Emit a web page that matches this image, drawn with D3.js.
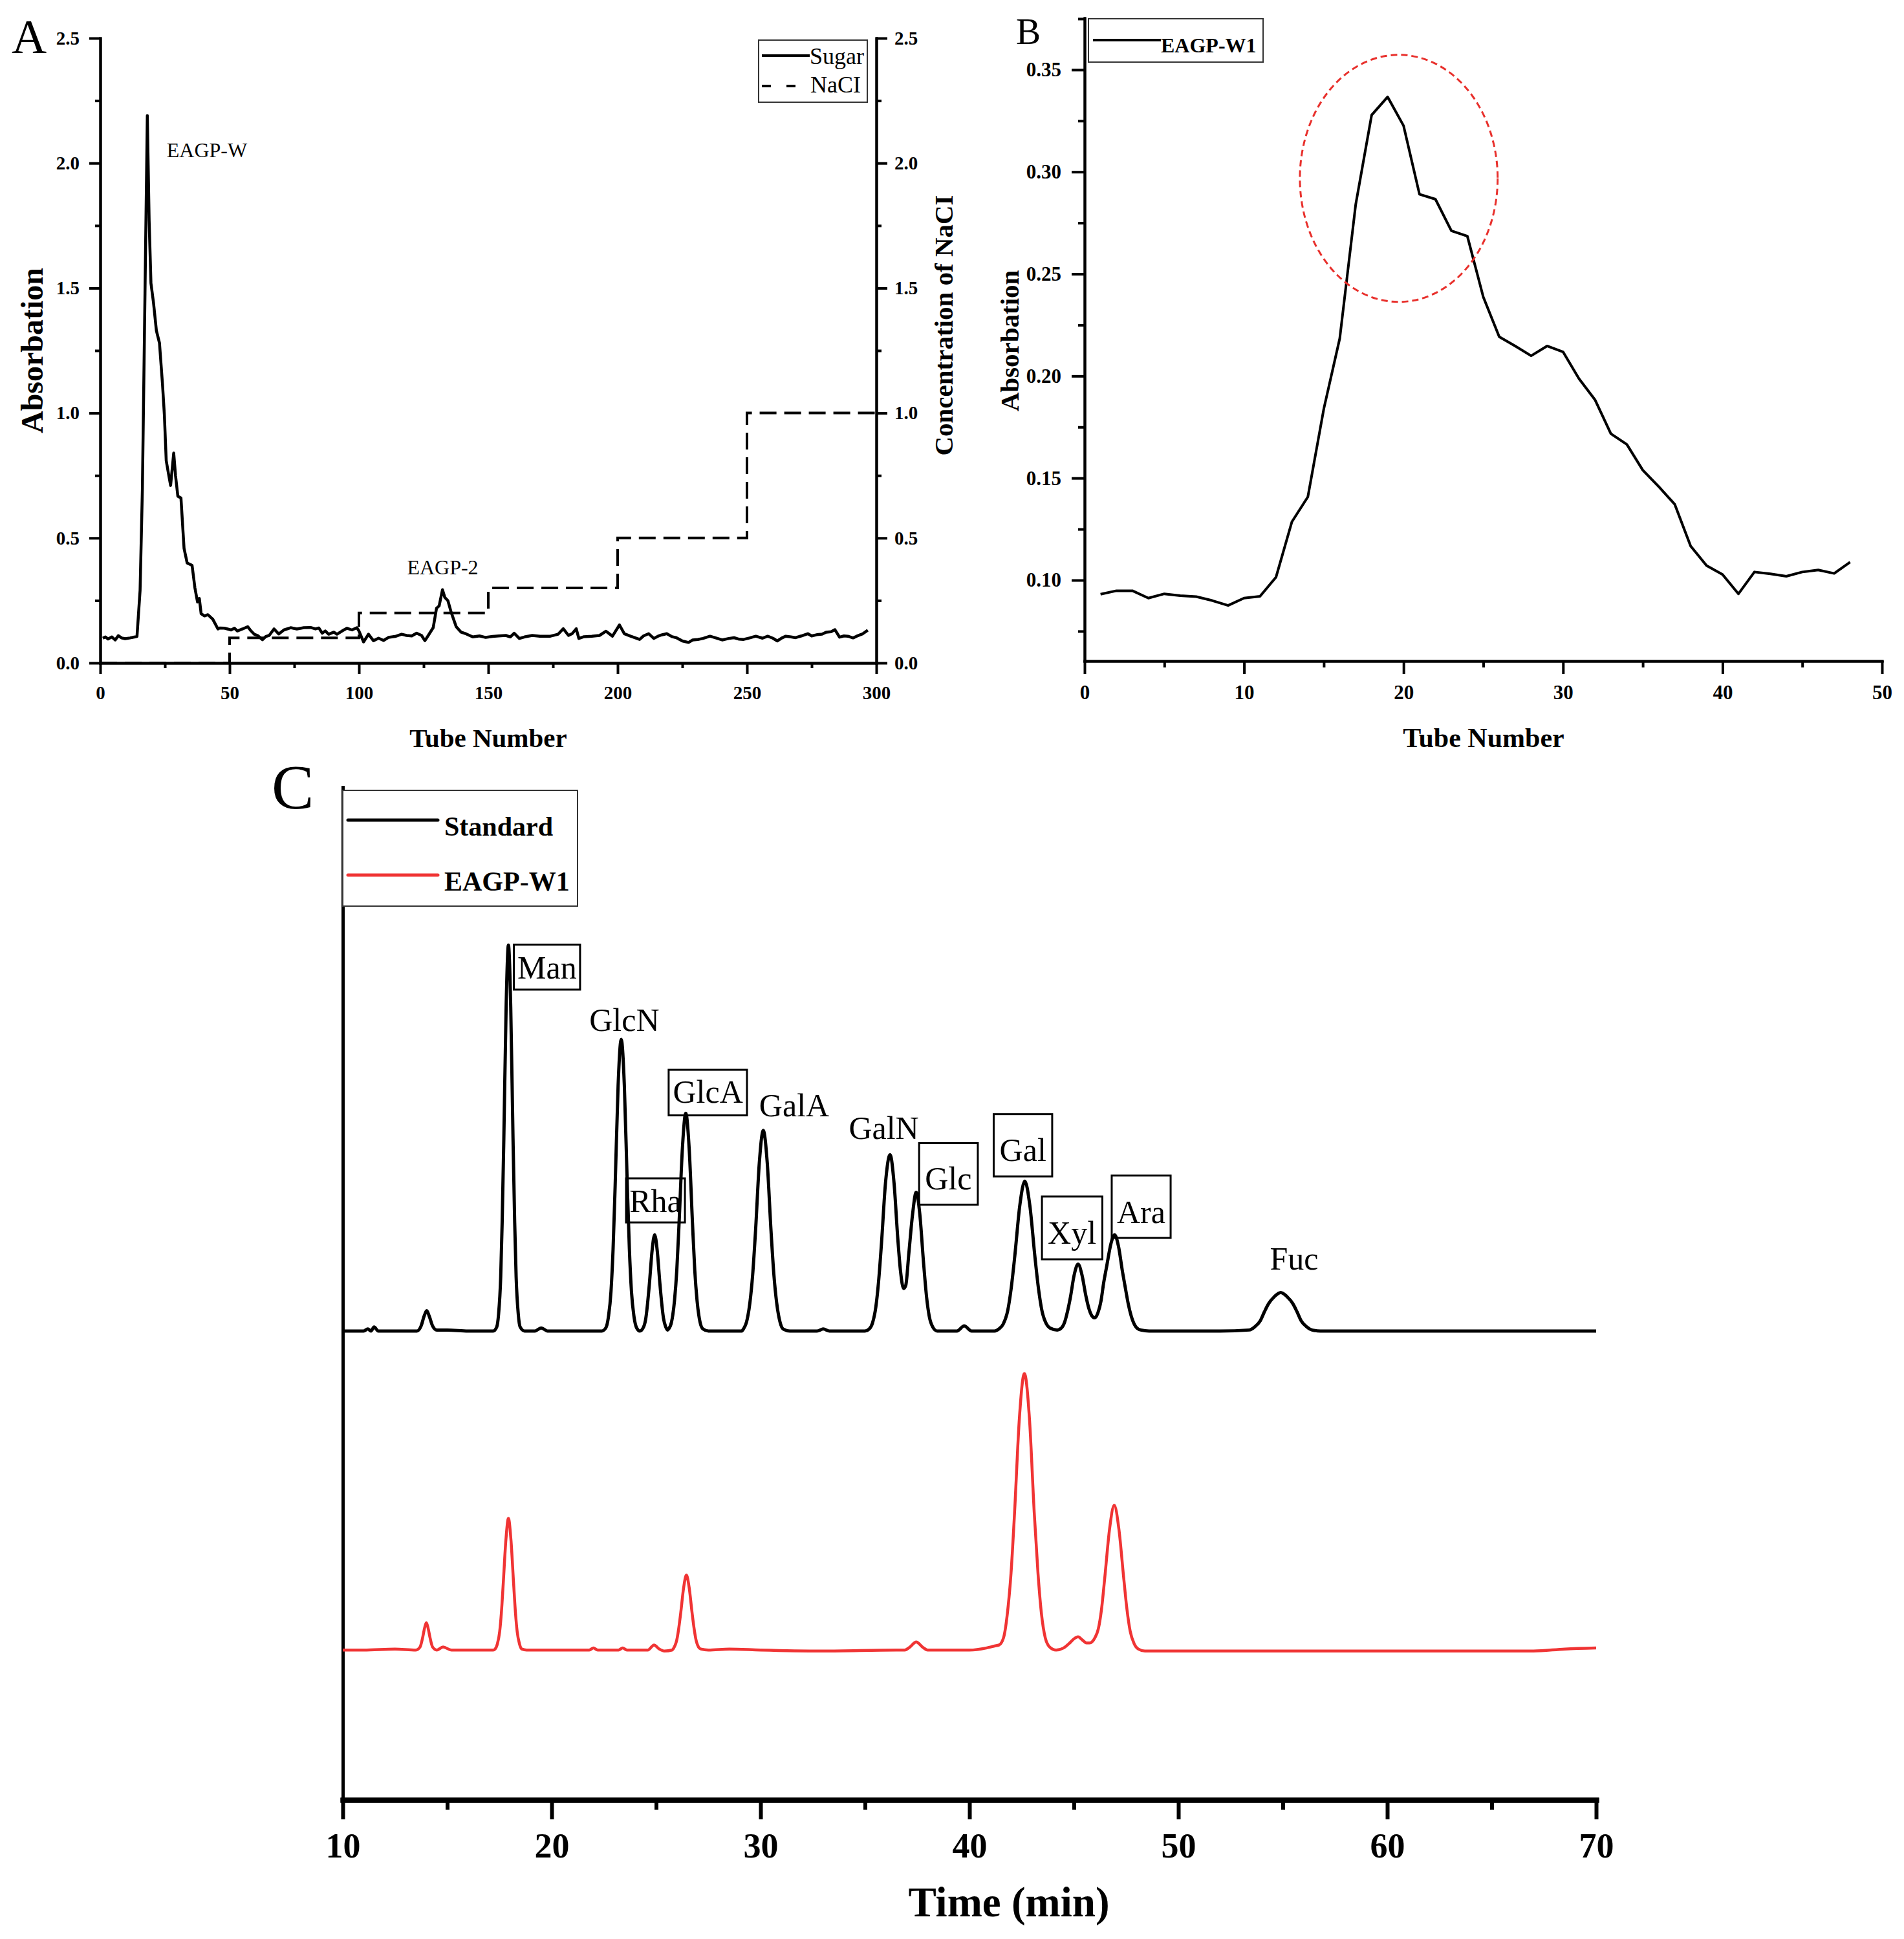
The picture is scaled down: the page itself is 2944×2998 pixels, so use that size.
<!DOCTYPE html>
<html>
<head>
<meta charset="utf-8">
<script src="https://cdn.jsdelivr.net/npm/d3@7"></script>
<style>
  body { margin: 0; background: #fff; }
  svg { display: block; font-family: "Liberation Serif", "Times New Roman", serif; }
  .axis path, .axis line { stroke: #000; }
  .axis text { fill: #000; font-weight: bold; font-family: "Liberation Serif", "Times New Roman", serif; }
</style>
</head>
<body>
<svg width="2944" height="2998"></svg>
<script>
// ---------------- data ----------------

// Panel A: sugar absorbance per tube [tube, absorbance]
const sugarA = [
  [1,0.099],[2,0.104],[3,0.096],[4.5,0.104],[5.8,0.092],[7,0.109],[8.3,0.100],[9.6,0.097],[11.5,0.100],[13.4,0.104],[14.2,0.106],
  [15.4,0.29],[16.3,0.70],[17.3,1.48],[18.2,2.19],[18.9,1.77],[19.6,1.52],[20.6,1.44],[21.7,1.33],[22.9,1.28],[24.1,1.11],
  [24.8,0.99],[25.5,0.81],[26.5,0.75],[27.2,0.71],[28.4,0.84],[29.1,0.75],[30,0.667],[31.2,0.66],[32.4,0.458],[33.6,0.40],
  [34.8,0.394],[35.5,0.39],[36.6,0.30],[37.6,0.244],[38.3,0.258],[39,0.197],[40.3,0.188],[41.6,0.193],[43.5,0.175],[45.5,0.136],
  [46.2,0.14],[48,0.139],[50.6,0.132],[51.9,0.139],[53,0.128],[55,0.136],[57,0.145],[58.3,0.128],[59.5,0.115],[60.8,0.110],
  [62.7,0.093],[64,0.106],[65.3,0.110],[67.2,0.136],[69,0.116],[71,0.132],[73.6,0.141],[76,0.136],[78.7,0.141],[81.3,0.142],
  [83.2,0.136],[84.5,0.14],[85.8,0.119],[87,0.128],[88.3,0.115],[90.3,0.123],[91.5,0.115],[93.5,0.128],[95.4,0.139],[97.3,0.132],
  [99.2,0.141],[100,0.128],[101.8,0.084],[103.7,0.115],[105.6,0.089],[107.6,0.099],[109.5,0.090],[111.4,0.102],[114,0.106],
  [116.5,0.115],[118.4,0.110],[120.4,0.108],[122.3,0.119],[124.2,0.110],[125.5,0.089],[127,0.113],[128.7,0.141],[130,0.219],
  [131,0.228],[132.3,0.293],[133.2,0.262],[134.4,0.249],[135.7,0.201],[137.6,0.145],[139.5,0.123],[141.5,0.116],[144,0.104],
  [146.6,0.108],[149,0.102],[151.7,0.106],[154,0.108],[156.8,0.110],[158.5,0.104],[160,0.119],[162,0.098],[164,0.104],
  [167,0.11],[170,0.107],[174,0.107],[177,0.115],[179,0.137],[181,0.11],[182.5,0.118],[184,0.137],[185,0.098],[187,0.105],
  [190,0.107],[193,0.11],[195.5,0.127],[198,0.107],[200.7,0.152],[202.6,0.117],[205,0.107],[208.5,0.094],[210,0.108],
  [212,0.117],[214,0.098],[215.6,0.107],[217,0.112],[219,0.117],[221,0.105],[222.7,0.101],[225,0.088],[227.4,0.082],
  [229,0.092],[231,0.094],[233,0.098],[235.7,0.107],[238,0.1],[240.4,0.092],[243,0.098],[245,0.101],[247,0.095],[248.7,0.094],
  [251,0.1],[253.4,0.107],[256,0.099],[258,0.107],[260,0.099],[261.7,0.088],[263.5,0.1],[265,0.107],[267,0.104],[268.8,0.101],
  [271,0.108],[273.5,0.117],[275,0.108],[277,0.113],[279,0.115],[280.6,0.123],[282.5,0.125],[284,0.133],[285.8,0.103],
  [287.5,0.108],[289,0.107],[291,0.1],[292.4,0.107],[294.8,0.117],[296.7,0.131]
];

// Panel A: NaCl step gradient
const naclTube = [0, 50, 100, 150, 200, 250, 300];
const naclConc = [0, 0.1, 0.2, 0.3, 0.5, 1.0, 1.0];

const tickA = [0, 50, 100, 150, 200, 250, 300];
const tickAy = [0, 0.5, 1.0, 1.5, 2.0, 2.5];

// Panel B: EAGP-W1 elution, tubes 1..48
const tubeB = d3.range(1, 49);
const absB = [0.0931,0.0948,0.0948,0.0912,0.0933,0.0924,0.0919,0.0900,0.0876,0.0912,0.0921,0.1014,
              0.1286,0.1408,0.1839,0.2184,0.2840,0.3278,0.3367,0.3226,0.2890,0.2866,0.2711,0.2685,
              0.2387,0.2192,0.2147,0.2099,0.2147,0.2118,0.1987,0.1884,0.1717,0.1665,0.1539,0.1458,
              0.1372,0.1167,0.1071,0.1028,0.0933,0.1040,0.1031,0.1019,0.1040,0.1050,0.1033,0.1088];
const tickB = [0, 10, 20, 30, 40, 50];
const tickBy = [0.10, 0.15, 0.20, 0.25, 0.30, 0.35];
const peakMark = { cx: 19.7, cy: 0.2968, rx: 6.2, ry: 0.0605 };

// Panel C: chromatograms [time (min), signal]
const standardC = [
  [10.0,463],[11.0,463],[11.2,465],[11.35,463],[11.5,467],[11.7,463],
  [13.55,463],[13.75,468],[13.9,478],[14.02,483],[14.15,477],[14.3,468],[14.5,464],[15.0,464],[16.0,463],[17.2,463],
  [17.37,467],[17.46,480],[17.56,516],[17.63,570],[17.71,653],[17.82,783],[17.93,844],[18.04,783],[18.15,653],[18.23,570],
  [18.3,516],[18.4,480],[18.49,467],[18.7,463],[19.2,463],[19.5,466],[19.8,463],[22.4,463],
  [22.59,466],[22.71,476],[22.84,502],[22.94,544],[23.04,607],[23.18,705],[23.33,751],[23.48,705],[23.62,607],[23.72,544],
  [23.82,502],[23.95,476],[24.07,466],[24.22,463],
  [24.4,467],[24.51,476],[24.59,490],[24.68,510],[24.81,543],[24.93,558],[25.05,543],[25.18,510],[25.27,490],[25.35,476],
  [25.46,467],[25.55,464],
  [25.6,465],[25.74,472],[25.88,493],[25.99,523],[26.1,570],[26.26,644],[26.42,678],[26.58,644],[26.74,570],[26.85,523],
  [26.96,493],[27.1,472],[27.24,465],[27.5,463],
  [29.1,463],[29.18,465],[29.33,472],[29.49,491],[29.62,518],[29.76,562],[29.94,629],[30.13,661],[30.32,629],[30.5,562],
  [30.64,518],[30.77,491],[30.93,472],[31.08,465],[31.4,463],[32.7,463],[33.0,465],[33.3,463],[35.0,463],
  [35.2,465],[35.36,471],[35.52,487],[35.65,512],[35.79,550],[35.98,609],[36.2,637],[36.39,609],[36.57,554],[36.7,522],
  [36.85,505],[36.95,508],[37.1,540],[37.27,577],[37.45,600],[37.62,579],[37.8,531],[37.95,496],[38.08,477],[38.24,467],
  [38.45,463],[39.4,463],[39.75,468],[40.1,463],[41.2,463],
  [41.41,465],[41.62,470],[41.83,483],[41.99,504],[42.17,537],[42.41,587],[42.65,611],[42.89,587],[43.13,537],[43.31,504],
  [43.47,483],[43.68,470],[43.85,466],
  [44.2,464],[44.4,466],[44.56,472],[44.69,482],[44.83,496],[45.01,518],[45.2,529],[45.39,518],[45.57,498],[45.72,485],
  [45.86,478],[46.0,476],
  [46.15,481],[46.3,493],[46.42,510],[46.57,527],[46.77,549],[46.95,558],[47.13,547],[47.33,521],[47.45,507],[47.6,490],
  [47.77,476],[47.97,467],[48.2,464],[48.6,463],[52.0,463],
  [53.4,464],[53.65,467],[53.92,473],[54.12,482],[54.32,490],[54.6,497],[54.9,501],[55.2,497],[55.48,490],[55.68,482],
  [55.88,473],[56.15,467],[56.4,464],[56.8,463],[70.0,463]
];
const sampleC = [
  [10.0,148],[11.0,148],[12.5,149],[13.5,148],
  [13.7,151],[13.82,160],[13.92,170],[14.0,175],[14.08,170],[14.18,160],[14.3,151],[14.5,148],[14.8,151],[15.2,148],
  [17.2,148],[17.29,149],[17.4,154],[17.51,166],[17.59,184],[17.68,213],[17.81,257],[17.93,278],[18.05,257],[18.18,213],
  [18.27,184],[18.35,166],[18.46,154],[18.57,149],[18.8,148],
  [21.8,148],[22.0,150],[22.2,148],[23.2,148],[23.4,150],[23.6,148],[24.6,148],[24.9,153],[25.15,149],[25.4,147],
  [25.76,148],[25.87,151],[25.99,158],[26.08,169],[26.18,185],[26.32,210],[26.45,222],[26.58,210],[26.72,185],[26.82,169],
  [26.91,158],[27.03,151],[27.14,149],[27.5,148],[28.5,149],[30.0,148],[33.0,147],[36.5,148],
  [36.9,148],[37.15,151],[37.45,156],[37.75,151],[38.0,148],[40.0,148],[40.8,150],[41.2,152],
  [41.42,153],[41.63,160],[41.82,185],[41.99,224],[42.16,284],[42.39,377],[42.63,421],[42.87,377],[43.1,284],[43.28,224],
  [43.44,185],[43.63,160],[43.84,151],[44.15,148],
  [44.5,150],[44.8,155],[45.0,159],[45.2,161],[45.4,158],[45.6,155],[45.75,155],
  [46.0,160],[46.17,169],[46.32,188],[46.48,220],[46.71,268],[46.93,291],[47.15,268],[47.38,220],[47.54,188],[47.69,167],
  [47.89,154],[48.08,149],[48.4,147],[55.0,147],[62.0,147],[67.0,147],[68.5,149],[70.0,150]
];
const tickC = [10, 20, 30, 40, 50, 60, 70];

// peak names: text anchor (t, y) and optional box [t0, t1, yTop, yBottom]
const peakLabels = [
  { name: "Man",  t: 19.78, y: 811,   box: [18.19, 21.36, 844.5, 800.1] },
  { name: "GlcN", t: 23.48, y: 759.3 },
  { name: "Rha",  t: 24.97, y: 580.7, box: [23.56, 26.38, 613.7, 570.2] },
  { name: "GlcA", t: 27.48, y: 688.4, box: [25.60, 29.35, 720.9, 675.9] },
  { name: "GalA", t: 31.61, y: 675 },
  { name: "GalN", t: 35.90, y: 652.7 },
  { name: "Glc",  t: 38.99, y: 602.8, box: [37.59, 40.40, 648.5, 587.7] },
  { name: "Gal",  t: 42.56, y: 630.9, box: [41.16, 43.96, 677.1, 615.6] },
  { name: "Xyl",  t: 44.91, y: 549.2, box: [43.47, 46.36, 595.8, 533.8] },
  { name: "Ara",  t: 48.22, y: 569.3, box: [46.81, 49.63, 616.5, 554.9] },
  { name: "Fuc",  t: 55.54, y: 523.9 }
];

// ---------------- drawing ----------------
const svg = d3.select("svg");

// helper: style an axis group
function styleAxis(g, width, fontSize) {
  g.attr("class", "axis");
  g.selectAll("path").attr("stroke-width", width).attr("stroke-linecap", "square");
  g.selectAll("line").attr("stroke-width", width);
  g.selectAll("text").attr("font-size", fontSize);
  return g;
}

// ===== Panel A =====
const xA = d3.scaleLinear().domain([0, 300]).range([155, 1355]);
const yA = d3.scaleLinear().domain([0, 2.5]).range([1025, 59]);
const yA2 = d3.scaleLinear().domain([0, 2.5]).range([1025, 59]);

svg.append("g").attr("transform", "translate(0,1025)")
  .call(d3.axisBottom(xA).tickValues(d3.range(25, 300, 50)).tickFormat("").tickSize(8).tickSizeOuter(0))
  .call(g => styleAxis(g, 4, 29));
svg.append("g").attr("transform", "translate(0,1025)")
  .call(d3.axisBottom(xA).tickValues(tickA).tickFormat(d3.format("d")).tickSize(17).tickPadding(18).tickSizeOuter(0))
  .call(g => styleAxis(g, 4, 29));
svg.append("g").attr("transform", "translate(155,0)")
  .call(d3.axisLeft(yA).tickValues(d3.range(0.25, 2.5, 0.5)).tickFormat("").tickSize(8).tickSizeOuter(0))
  .call(g => styleAxis(g, 4, 29));
svg.append("g").attr("transform", "translate(155,0)")
  .call(d3.axisLeft(yA).tickValues(tickAy).tickFormat(d3.format(".1f")).tickSize(17).tickPadding(15).tickSizeOuter(0))
  .call(g => styleAxis(g, 4, 29));
svg.append("g").attr("transform", "translate(1355,0)")
  .call(d3.axisRight(yA2).tickValues(d3.range(0.25, 2.5, 0.5)).tickFormat("").tickSize(8).tickSizeOuter(0))
  .call(g => styleAxis(g, 4, 29));
svg.append("g").attr("transform", "translate(1355,0)")
  .call(d3.axisRight(yA2).tickValues(tickAy).tickFormat(d3.format(".1f")).tickSize(17).tickPadding(11).tickSizeOuter(0))
  .call(g => styleAxis(g, 4, 29));

// NaCl gradient
svg.append("path")
  .datum(naclTube.map((t, i) => [t, naclConc[i]]))
  .attr("fill", "none").attr("stroke", "#000").attr("stroke-width", 4)
  .attr("stroke-dasharray", "26,12")
  .attr("d", d3.line().x(d => xA(d[0])).y(d => yA2(d[1])).curve(d3.curveStepAfter));

// sugar curve
svg.append("path")
  .datum(sugarA)
  .attr("fill", "none").attr("stroke", "#000").attr("stroke-width", 4.5)
  .attr("stroke-linejoin", "round")
  .attr("d", d3.line().x(d => xA(d[0])).y(d => yA(d[1])));

svg.append("text").attr("x", xA(25.7)).attr("y", yA(2.024))
  .attr("font-size", 32).text("EAGP-W");
svg.append("text").attr("x", xA(118.6)).attr("y", yA(0.355))
  .attr("font-size", 32).text("EAGP-2");

// legend A
svg.append("rect").attr("x", 1173).attr("y", 62).attr("width", 168).attr("height", 96)
  .attr("fill", "#fff").attr("stroke", "#333").attr("stroke-width", 2);
svg.append("line").attr("x1", 1178).attr("x2", 1252).attr("y1", 86).attr("y2", 86)
  .attr("stroke", "#000").attr("stroke-width", 4);
svg.append("text").attr("x", 1252).attr("y", 99).attr("font-size", 36).text("Sugar");
svg.append("line").attr("x1", 1178).attr("x2", 1240).attr("y1", 133).attr("y2", 133)
  .attr("stroke", "#000").attr("stroke-width", 4).attr("stroke-dasharray", "14,24");
svg.append("text").attr("x", 1253).attr("y", 143).attr("font-size", 36).text("NaCI");

// titles A
svg.append("text").attr("x", 18).attr("y", 82).attr("font-size", 75).text("A");
svg.append("text").attr("x", 755).attr("y", 1155).attr("text-anchor", "middle")
  .attr("font-size", 41).attr("font-weight", "bold").text("Tube Number");
svg.append("text").attr("transform", "translate(66,542) rotate(-90)").attr("text-anchor", "middle")
  .attr("font-size", 48).attr("font-weight", "bold").text("Absorbation");
svg.append("text").attr("transform", "translate(1473,503) rotate(-90)").attr("text-anchor", "middle")
  .attr("font-size", 41).attr("font-weight", "bold").text("Concentration of NaCI");

// ===== Panel B =====
const xB = d3.scaleLinear().domain([0, 50]).range([1677, 2910]);
const yB = d3.scaleLinear().domain([0.0604, 0.3753]).range([1022, 28]);

svg.append("g").attr("transform", "translate(0,1022)")
  .call(d3.axisBottom(xB).tickValues(d3.range(5, 50, 10)).tickFormat("").tickSize(10).tickSizeOuter(0))
  .call(g => styleAxis(g, 4, 31));
svg.append("g").attr("transform", "translate(0,1022)")
  .call(d3.axisBottom(xB).tickValues(tickB).tickFormat(d3.format("d")).tickSize(20).tickPadding(17).tickSizeOuter(0))
  .call(g => styleAxis(g, 4, 31));
svg.append("g").attr("transform", "translate(1677,0)")
  .call(d3.axisLeft(yB).tickValues(d3.range(0.075, 0.38, 0.05)).tickFormat("").tickSize(10).tickSizeOuter(0))
  .call(g => styleAxis(g, 4, 31));
svg.append("g").attr("transform", "translate(1677,0)")
  .call(d3.axisLeft(yB).tickValues(tickBy).tickFormat(d3.format(".2f")).tickSize(20).tickPadding(16).tickSizeOuter(0))
  .call(g => styleAxis(g, 4, 31));

svg.append("path")
  .datum(tubeB.map((t, i) => [t, absB[i]]))
  .attr("fill", "none").attr("stroke", "#000").attr("stroke-width", 4)
  .attr("stroke-linejoin", "round")
  .attr("d", d3.line().x(d => xB(d[0])).y(d => yB(d[1])));

// dashed red ring round the main peak
svg.append("ellipse")
  .attr("cx", xB(peakMark.cx)).attr("cy", yB(peakMark.cy))
  .attr("rx", xB(peakMark.cx + peakMark.rx) - xB(peakMark.cx))
  .attr("ry", yB(peakMark.cy - peakMark.ry) - yB(peakMark.cy))
  .attr("fill", "none").attr("stroke", "#e8302c").attr("stroke-width", 3)
  .attr("stroke-dasharray", "10,6");

// legend B
svg.append("rect").attr("x", 1683).attr("y", 29).attr("width", 270).attr("height", 67)
  .attr("fill", "#fff").attr("stroke", "#333").attr("stroke-width", 2);
svg.append("line").attr("x1", 1690).attr("x2", 1795).attr("y1", 62).attr("y2", 62)
  .attr("stroke", "#000").attr("stroke-width", 4);
svg.append("text").attr("x", 1795).attr("y", 81).attr("font-size", 32).attr("font-weight", "bold").text("EAGP-W1");

svg.append("text").attr("x", 1571).attr("y", 68).attr("font-size", 57).text("B");
svg.append("text").attr("x", 2294).attr("y", 1155).attr("text-anchor", "middle")
  .attr("font-size", 42).attr("font-weight", "bold").text("Tube Number");
svg.append("text").attr("transform", "translate(1575,527) rotate(-90)").attr("text-anchor", "middle")
  .attr("font-size", 41).attr("font-weight", "bold").text("Absorbation");

// ===== Panel C =====
const xC = d3.scaleLinear().domain([10, 70]).range([530, 2468]);
const yC = d3.scaleLinear().domain([0, 1000]).range([2783, 1217]);

svg.append("g").attr("transform", "translate(530,0)")
  .call(d3.axisLeft(yC).tickValues([]).tickSizeOuter(0))
  .call(g => styleAxis(g, 5, 54));
svg.append("g").attr("transform", "translate(0," + yC(0) + ")")
  .call(d3.axisBottom(xC).tickValues(d3.range(15, 70, 10)).tickFormat("").tickSize(15).tickSizeOuter(0))
  .call(g => styleAxis(g, 8, 54))
  .call(g => g.selectAll("line").attr("stroke-width", 6));
svg.append("g").attr("transform", "translate(0," + yC(0) + ")")
  .call(d3.axisBottom(xC).tickValues(tickC).tickFormat(d3.format("d")).tickSize(30).tickPadding(21).tickSizeOuter(0))
  .call(g => styleAxis(g, 8, 54))
  .call(g => g.selectAll("line").attr("stroke-width", 6));

const lineC = d3.line().x(d => xC(d[0])).y(d => yC(d[1])).curve(d3.curveMonotoneX);
svg.append("path").datum(standardC)
  .attr("fill", "none").attr("stroke", "#000").attr("stroke-width", 5)
  .attr("stroke-linejoin", "round").attr("d", lineC);
svg.append("path").datum(sampleC)
  .attr("fill", "none").attr("stroke", "#f03434").attr("stroke-width", 4.5)
  .attr("stroke-linejoin", "round").attr("d", lineC);

// peak names
const lab = svg.append("g").attr("font-size", 50);
peakLabels.forEach(p => {
  if (p.box) {
    lab.append("rect")
      .attr("x", xC(p.box[0])).attr("y", yC(p.box[2]))
      .attr("width", xC(p.box[1]) - xC(p.box[0]))
      .attr("height", yC(p.box[3]) - yC(p.box[2]))
      .attr("fill", "none").attr("stroke", "#000").attr("stroke-width", 3);
  }
  lab.append("text").attr("x", xC(p.t)).attr("y", yC(p.y))
    .attr("text-anchor", "middle").text(p.name);
});

// legend C
svg.append("rect").attr("x", 530).attr("y", 1222).attr("width", 363).attr("height", 179)
  .attr("fill", "#fff").attr("stroke", "#333").attr("stroke-width", 2);
svg.append("line").attr("x1", 538).attr("x2", 677).attr("y1", 1268).attr("y2", 1268)
  .attr("stroke", "#000").attr("stroke-width", 5).attr("stroke-linecap", "round");
svg.append("text").attr("x", 687).attr("y", 1292).attr("font-size", 42).attr("font-weight", "bold").text("Standard");
svg.append("line").attr("x1", 538).attr("x2", 677).attr("y1", 1353).attr("y2", 1353)
  .attr("stroke", "#f03434").attr("stroke-width", 5).attr("stroke-linecap", "round");
svg.append("text").attr("x", 687).attr("y", 1377).attr("font-size", 42).attr("font-weight", "bold").text("EAGP-W1");

svg.append("text").attr("x", 420).attr("y", 1250).attr("font-size", 98).text("C");
svg.append("text").attr("x", 1560).attr("y", 2963).attr("text-anchor", "middle")
  .attr("font-size", 65).attr("font-weight", "bold").text("Time (min)");
</script>
</body>
</html>
